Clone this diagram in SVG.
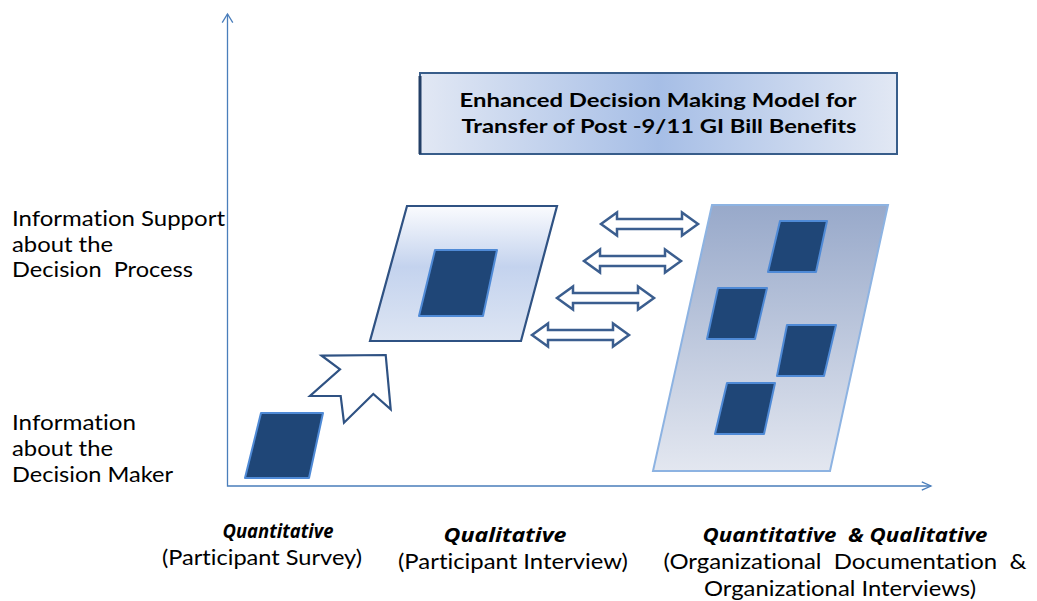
<svg xmlns="http://www.w3.org/2000/svg" width="1037" height="601" viewBox="0 0 1037 601">
  <style>
    text { white-space: pre; font-variant-ligatures: none; }
    .lbl { font-family: Lato, "Open Sans", sans-serif; font-size: 20.5px; fill: #000; }
    .hd { font-family: "Open Sans", Lato, sans-serif; font-size: 20px; font-weight: bold; font-style: italic; fill: #000; }
    .hd-s { font-size: 19px; }
    .ttl { font-family: Lato, "Open Sans", sans-serif; font-size: 19.5px; font-weight: bold; fill: #000; }
    .axis { stroke: #4A7EBB; stroke-width: 1.3; fill: none; }
    .cell { fill: #1F4677; stroke: #4F8AD6; stroke-width: 2; stroke-linejoin: round; }
    .dbl { fill: #fff; stroke: #3B5E8F; stroke-width: 2.5; stroke-linejoin: miter; }
  </style>
  <defs>
    <linearGradient id="gTitle" x1="0" y1="0" x2="1" y2="0">
      <stop offset="0" stop-color="#E2E8F4"/>
      <stop offset="0.5" stop-color="#A6BEE6"/>
      <stop offset="1" stop-color="#E2E8F4"/>
    </linearGradient>
    <linearGradient id="gMid" x1="0" y1="0" x2="0" y2="1">
      <stop offset="0" stop-color="#FAFBFE"/>
      <stop offset="0.45" stop-color="#C4D3EE"/>
      <stop offset="1" stop-color="#DDE5F3"/>
    </linearGradient>
    <linearGradient id="gBig" x1="0" y1="0" x2="0" y2="1">
      <stop offset="0" stop-color="#98A9CA"/>
      <stop offset="1" stop-color="#E3E7F0"/>
    </linearGradient>
    <path id="dblArrow" d="M0,0 L16,-11.5 L16,-5 L81,-5 L81,-11.5 L97,0 L81,11.5 L81,5 L16,5 L16,11.5 Z"/>
  </defs>

  <rect width="1037" height="601" fill="#fff"/>

  <!-- axes -->
  <g id="axes">
    <path class="axis" d="M227.5,14 V486 H931"/>
    <path class="axis" d="M222.2,22.7 L227.5,14 L232.8,22.7"/>
    <path class="axis" d="M921.8,481.8 L931,486 L921.8,490.2"/>
  </g>

  <!-- title -->
  <g id="title">
    <rect x="420" y="73" width="477" height="81" fill="url(#gTitle)" stroke="#385D8A" stroke-width="2"/>
    <line x1="420" y1="76" x2="420" y2="154" stroke="#233F66" stroke-width="3"/>
    <text class="ttl" x="658" y="107" text-anchor="middle" textLength="397" lengthAdjust="spacingAndGlyphs">Enhanced Decision Making Model for</text>
    <text class="ttl" x="659" y="133" text-anchor="middle" textLength="395" lengthAdjust="spacingAndGlyphs">Transfer of Post -9/11 GI Bill Benefits</text>
  </g>

  <!-- y-axis labels -->
  <g id="label-process">
    <text class="lbl" x="12" y="226" textLength="213" lengthAdjust="spacingAndGlyphs">Information Support</text>
    <text class="lbl" x="12" y="252" textLength="101" lengthAdjust="spacingAndGlyphs">about the</text>
    <text class="lbl" x="12" y="277" textLength="181" lengthAdjust="spacingAndGlyphs">Decision  Process</text>
  </g>
  <g id="label-maker">
    <text class="lbl" x="12" y="430" textLength="124" lengthAdjust="spacingAndGlyphs">Information</text>
    <text class="lbl" x="12" y="456" textLength="101" lengthAdjust="spacingAndGlyphs">about the</text>
    <text class="lbl" x="12" y="482" textLength="161" lengthAdjust="spacingAndGlyphs">Decision Maker</text>
  </g>

  <!-- survey: single data cell -->
  <g id="survey">
    <polygon class="cell" points="261,413 323,413 309,478 245,478"/>
  </g>

  <!-- step arrow towards the interview stage -->
  <g id="step-arrow">
    <polygon points="321.7,355.7 385.7,355 390.7,409.3 373.3,394 344,422.7 340.7,396 310,396 340,369.3" fill="#fff" stroke="#2F5283" stroke-width="2.2" stroke-linejoin="miter"/>
  </g>

  <!-- interview stage -->
  <g id="interview">
    <polygon points="407,206 557,206 521,341 370,341" fill="url(#gMid)" stroke="#2F5283" stroke-width="2.2"/>
    <polygon class="cell" points="435,250 497,250 483,316 419,316"/>
  </g>

  <!-- organizational stage -->
  <g id="organization">
    <polygon points="712,205 888,205 830,471 653,471" fill="url(#gBig)" stroke="#8DB3E2" stroke-width="2"/>
    <polygon class="cell" points="780,221 827,221 816,272 768,272"/>
    <polygon class="cell" points="718,288 767,288 755,339 707,339"/>
    <polygon class="cell" points="787,325 836,325 824,376 777,376"/>
    <polygon class="cell" points="727,383 775,383 764,434 715,434"/>
  </g>

  <!-- exchange connectors -->
  <g id="connectors">
    <use href="#dblArrow" class="dbl" transform="translate(601,224)"/>
    <use href="#dblArrow" class="dbl" transform="translate(584,261)"/>
    <use href="#dblArrow" class="dbl" transform="translate(557,298)"/>
    <use href="#dblArrow" class="dbl" transform="translate(532,335)"/>
  </g>

  <!-- x-axis categories -->
  <g id="cat-survey">
    <text class="hd hd-s" x="278" y="538" text-anchor="middle" textLength="111" lengthAdjust="spacingAndGlyphs">Quantitative</text>
    <text class="lbl" x="262" y="565" text-anchor="middle" textLength="200" lengthAdjust="spacingAndGlyphs">(Participant Survey)</text>
  </g>
  <g id="cat-interview">
    <text class="hd" x="505" y="542" text-anchor="middle" textLength="123" lengthAdjust="spacingAndGlyphs">Qualitative</text>
    <text class="lbl" x="513" y="569" text-anchor="middle" textLength="230" lengthAdjust="spacingAndGlyphs">(Participant Interview)</text>
  </g>
  <g id="cat-organization">
    <text class="hd" x="845" y="542" text-anchor="middle" textLength="285" lengthAdjust="spacingAndGlyphs">Quantitative  &amp; Qualitative</text>
    <text class="lbl" x="845" y="569" text-anchor="middle" textLength="363" lengthAdjust="spacingAndGlyphs">(Organizational  Documentation  &amp;</text>
    <text class="lbl" x="840" y="596" text-anchor="middle" textLength="272" lengthAdjust="spacingAndGlyphs">Organizational Interviews)</text>
  </g>
</svg>
